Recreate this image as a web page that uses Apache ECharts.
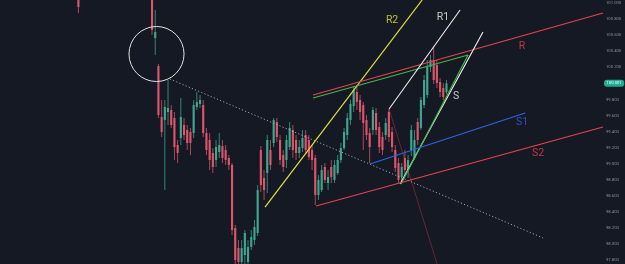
<!DOCTYPE html>
<html><head><meta charset="utf-8">
<script src="https://cdn.jsdelivr.net/npm/echarts@6/dist/echarts.min.js"></script>
<style>html,body{margin:0;padding:0;background:#151924}#c{width:625px;height:264px}</style>
</head><body><div id="c"></div>
<script>
// ---- candle data (bar index, open, close, low, high) ----
const candleIdx = [24,47,48,49,50,51,52,53,54,55,56,57,58,59,60,61,62,63,64,65,66,67,68,69,70,71,72,73,74,75,76,77,78,79,80,81,82,83,84,85,86,87,88,89,90,91,92,93,94,95,96,97,98,99,100,101,102,103,104,105,106,107,108,109,110,111,112,113,114,115,116,117,118,119,120,121,122,123,124,125,126,127,128,129,130,131,132,133,134,135,136,137,138,139];
const openP  = [101.30,101.30,100.566,100.217,99.582,99.544,99.644,99.669,99.569,99.233,99.320,99.482,99.420,99.395,99.382,99.706,99.744,99.731,99.382,99.295,99.133,99.046,99.146,99.220,99.171,99.071,98.984,98.198,97.949,97.775,97.862,97.775,97.962,98.049,98.136,99.171,98.822,98.884,99.171,99.258,99.520,99.295,99.108,99.046,99.208,99.420,99.295,99.133,99.195,99.357,99.295,99.171,99.071,98.610,98.672,98.959,98.759,98.959,98.797,98.884,99.046,99.195,99.357,99.544,99.719,99.893,99.794,99.731,99.544,99.382,99.420,99.632,99.457,99.333,99.357,99.644,99.395,99.171,99.009,98.834,99.071,98.921,99.171,99.071,99.520,99.445,99.731,99.856,100.205,100.292,100.230,100.018,99.943,99.893];
const closeP = [100.953,100.666,100.641,99.607,99.395,99.706,99.694,99.482,99.208,99.133,99.582,99.357,99.258,99.258,99.731,99.769,99.794,99.382,99.171,99.046,98.959,99.208,99.233,99.071,99.046,98.984,98.174,97.800,97.775,97.949,98.136,97.962,98.086,98.211,98.672,98.734,98.672,99.295,98.984,99.544,99.333,99.046,98.959,99.295,99.445,99.171,99.133,99.208,99.320,99.171,99.083,99.046,98.610,98.797,98.921,98.797,98.834,98.834,98.984,99.046,99.195,99.395,99.569,99.744,99.918,99.769,99.644,99.507,99.357,99.208,99.669,99.420,99.208,99.171,99.507,99.333,99.208,98.946,98.797,98.959,98.921,99.046,99.420,99.295,99.295,99.794,100.043,100.205,100.292,100.043,100.006,99.893,99.831,100.001];
const lowP   = [100.878,100.604,100.355,99.569,99.333,98.672,99.482,99.445,99.046,99.009,99.233,99.295,99.171,99.108,99.320,99.669,99.694,99.333,99.108,98.921,98.884,98.959,99.071,99.009,98.984,98.921,98.111,97.700,97.675,97.675,97.750,97.700,97.924,97.987,98.099,98.647,98.547,98.635,98.921,99.208,99.270,98.984,98.896,98.946,99.171,99.071,99.046,99.071,99.146,99.133,99.046,98.921,98.485,98.547,98.647,98.759,98.672,98.759,98.759,98.859,99.009,99.171,99.295,99.482,99.644,99.669,99.544,99.171,99.295,99.009,99.357,99.357,99.133,99.108,99.295,99.270,99.146,98.896,98.759,98.772,98.847,98.822,99.096,99.046,99.233,99.420,99.694,99.819,100.143,99.993,99.943,99.831,99.794,99.868];
const highP  = [101.35,101.35,100.915,100.242,99.794,99.794,100.043,99.731,99.644,99.295,99.819,99.569,99.482,99.445,99.794,99.893,99.856,99.794,99.445,99.382,99.195,99.295,99.382,99.295,99.233,99.108,99.009,98.236,98.049,98.049,98.174,98.049,98.174,98.298,98.734,99.220,98.921,99.357,99.295,99.569,99.569,99.357,99.171,99.357,99.520,99.482,99.357,99.295,99.420,99.420,99.357,99.233,99.108,98.859,98.984,99.009,98.921,99.046,99.046,99.108,99.258,99.445,99.632,99.794,99.956,99.981,99.856,99.769,99.607,99.445,99.706,99.694,99.520,99.395,99.569,99.681,99.457,99.233,99.071,99.009,99.171,99.108,99.482,99.420,99.569,99.831,100.105,100.292,100.355,100.467,100.292,100.068,100.006,100.043];

// ---- drawings: anchor points (bar index, price) ----
const drawNames = ['trend','R2','R','Rg','R1','S','Sg','S1','S2','drop'];
const drawX1 = [52.6, 82.3, 97.3, 97.3, 121.06, 124.5, 124.8, 115.1, 98.25, 121.06];
const drawY1 = [100.055, 98.460, 99.856, 99.819, 99.682, 98.747, 98.747, 98.996, 98.473, 99.682];
const drawX2 = [169.2, 131.4, 187.9, 145.75, 143.25, 150.4, 145.75, 163.6, 187.9, 136.06];
const drawY2 = [98.074, 101.04, 100.878, 100.355, 100.915, 100.641, 100.355, 99.632, 99.457, 97.75];

// circle annotation: centre (bar index, price), radius in bars
const circleX = [48.4], circleY = [100.367], circleR = [8.6];

// text labels
const labelText = ['R2','R1','R','S','S1','S2'];
const labelX = [122, 137.9, 162.6, 142, 162.6, 167.6];
const labelY = [100.79, 100.828, 100.467, 99.844, 99.52, 99.133];

// price axis ticks
const tickMin = 97.8, tickMax = 101.0, tickStep = 0.2;
const lastClose = closeP[closeP.length - 1];

const BG = '#151924', UP = '#3ea88f', DOWN = '#de566c';
const drawStyle = {
  trend: {color:'rgba(200,205,215,0.75)', width:1, type:[1.2,2.2]},
  R2: {color:'#e3e33a', width:1.2, type:'solid'},
  R: {color:'#e8414f', width:1.2, type:'solid'},
  Rg: {color:'#43b54a', width:1.2, type:'solid'},
  R1: {color:'#f0f0f0', width:1.1, type:'solid'},
  S: {color:'#f0f0f0', width:1.1, type:'solid'},
  Sg: {color:'#43b54a', width:1.2, type:'solid'},
  S1: {color:'#2f62e6', width:1.2, type:'solid'},
  S2: {color:'#e8414f', width:1.2, type:'solid'},
  drop: {color:'rgba(120,45,55,0.8)', width:1, type:'solid'}
};
const labelColor = {R2:'#e3e33a', R1:'#f0f0f0', R:'#e8414f', S:'#f0f0f0', S1:'#2f62e6', S2:'#e8414f'};

const candles = candleIdx.map((x,k)=>[x, openP[k], closeP[k], lowP[k], highP[k]]);

const series = [];
series.push({
  type:'custom', xAxisIndex:0, yAxisIndex:0, clip:true, data:candles, z:3,
  renderItem:(params, api)=>{
    const x=api.value(0), o=api.value(1), c=api.value(2), l=api.value(3), h=api.value(4);
    const pO=api.coord([x,o]), pC=api.coord([x,c]), pL=api.coord([x,l]), pH=api.coord([x,h]);
    const w=api.size([1,0])[0]*0.66;
    const col = c>=o ? UP : DOWN;
    const top=Math.min(pO[1],pC[1]), ht=Math.max(Math.abs(pO[1]-pC[1]),1);
    return {type:'group', children:[
      {type:'line', shape:{x1:pH[0],y1:pH[1],x2:pL[0],y2:pL[1]}, style:{stroke:col, lineWidth:0.9, opacity:0.85}},
      {type:'rect', shape:{x:pO[0]-w/2, y:top, width:w, height:ht}, style:{fill:col}}
    ]};
  }
});
drawNames.forEach((n,k)=>{
  const st = drawStyle[n];
  series.push({type:'line', xAxisIndex:0, yAxisIndex:0, data:[[drawX1[k],drawY1[k]],[drawX2[k],drawY2[k]]],
    showSymbol:false, symbol:'none', silent:true, z: n==='drop'?1:5,
    lineStyle:{color:st.color, width:st.width, type:st.type}});
});
series.push({type:'custom', xAxisIndex:0, yAxisIndex:0, clip:true, z:6,
  data: circleX.map((x,k)=>[x, circleY[k], circleR[k]]),
  renderItem:(params, api)=>{
    const p=api.coord([api.value(0), api.value(1)]);
    const r=api.size([api.value(2),0])[0];
    return {type:'circle', shape:{cx:p[0], cy:p[1], r:r}, style:{fill:'none', stroke:'#e2e2e2', lineWidth:1}};
  }});
series.push({type:'scatter', xAxisIndex:0, yAxisIndex:0, symbolSize:0, z:7,
  data: labelText.map((t,k)=>({name:t, value:[labelX[k], labelY[k]]})),
  label:{show:true, position:'inside', formatter:p=>p.name, fontSize:10.5, fontFamily:'Roboto, sans-serif',
    color: p=>labelColor[p.name]},
  labelLayout:{},
});
// label colour per item
series[series.length-1].data = labelText.map((t,k)=>({name:t, value:[labelX[k], labelY[k]], label:{color:labelColor[t]}}));

const chart = echarts.init(document.getElementById('c'), null, {renderer:'canvas'});
chart.setOption({
  backgroundColor: BG,
  animation:false,
  grid:[
    {left:0, right:22, top:0, bottom:0},
    {left:0, right:22, top:3.2, bottom:4}
  ],
  xAxis:[
    {type:'value', gridIndex:0, min:-0.5, max:187.9, show:false},
    {type:'value', gridIndex:1, min:0, max:1, show:false}
  ],
  yAxis:[
    {type:'value', gridIndex:0, min:97.75, max:101.04, show:false},
    {type:'value', gridIndex:1, position:'right', min:tickMin, max:tickMax, interval:tickStep,
      axisLine:{show:false}, axisTick:{show:false}, splitLine:{show:false},
      axisLabel:{color:'#8a8f9b', fontSize:4.2, margin:3, fontFamily:'Roboto, sans-serif', formatter:v=>v.toFixed(3)},
      axisPointer:{show:true, type:'line', value:lastClose, status:'show', triggerTooltip:false,
        lineStyle:{opacity:0},
        label:{show:true, backgroundColor:'#22ab94', color:'#ffffff', fontSize:4.2, padding:[1.5,2.5], margin:1,
          fontFamily:'Roboto, sans-serif', formatter:p=>Number(p.value).toFixed(3)}}
    }
  ],
  series: series
});
</script>
</body></html>
